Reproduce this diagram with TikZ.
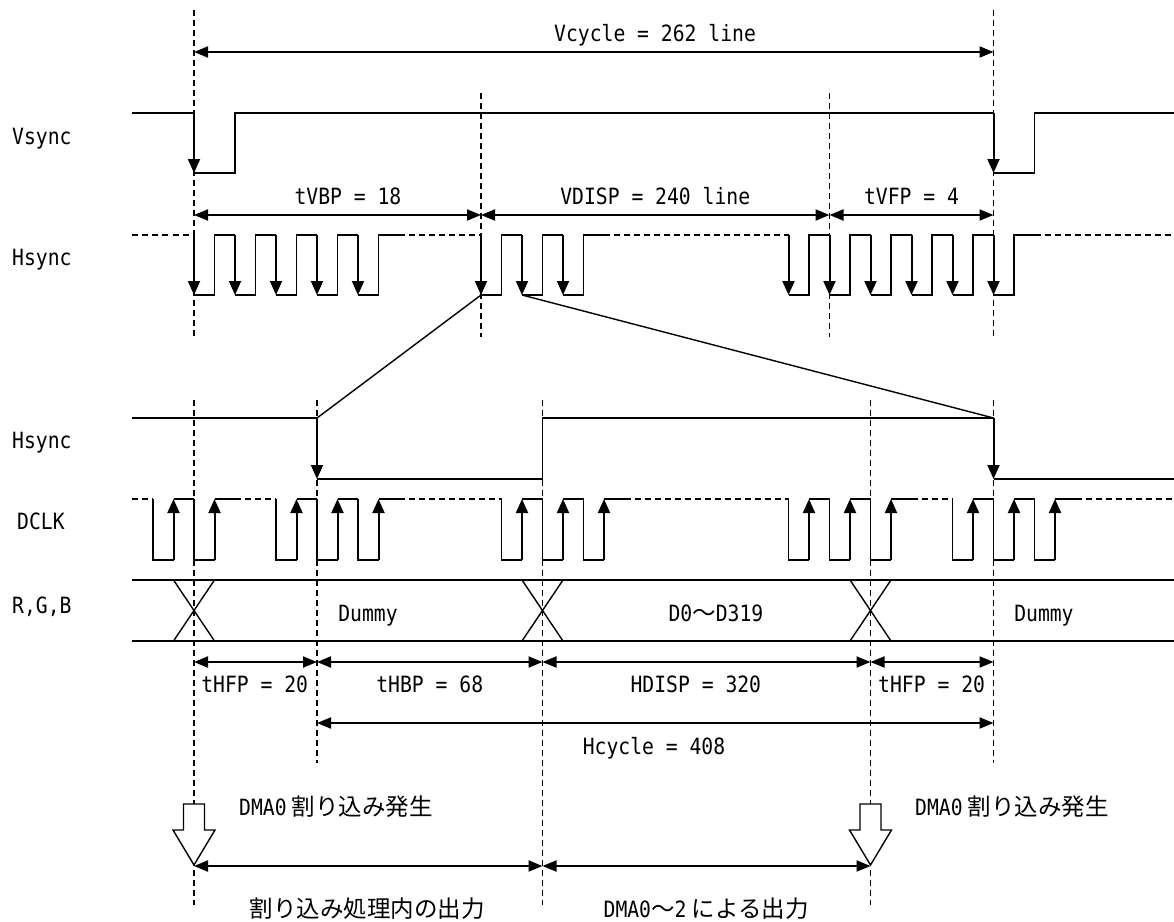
\documentclass[tikz,border=0pt]{standalone}
\usepackage{fontspec}
\setmainfont[FakeStretch=0.88]{DejaVu Sans Mono}
\newfontfamily\jpfont{Noto Sans CJK JP}
\usetikzlibrary{arrows.meta}

\newcommand{\lat}{\fontsize{22.4pt}{27pt}\selectfont}
\newcommand{\jp}{\jpfont\fontsize{23.5pt}{28pt}\selectfont}

\begin{document}
\begin{tikzpicture}[x=20.5pt,y=-1pt]
            \tikzset{
                sig/.style={
                    line width=1.4pt
                }
            }
            \tikzset{
                edge/.style={
                    line width=2pt,
                    -{Triangle[length=14pt,width=12pt]}
                }
            }
            \tikzset{
                guide/.style={
                    line width=1.3pt,
                    dash pattern=on 6pt off 4pt
                }
            }
            \tikzset{
                dim/.style={
                    line width=2pt,
                    {Triangle[length=14pt,width=11pt]}-{Triangle[length=14pt,width=11pt]}
                }
            }
            \tikzset{
                lbl/.style={
                    font=\lat,
                    inner sep=0pt,
                    anchor=base
                }
            }

            \useasboundingbox (-9.4634,0) rectangle (47.8049,921);

            % guide lines
            \draw[guide] (0,10) -- (0,337);
            \draw[guide] (14,93) -- (14,337);
            \draw[guide] (31,93) -- (31,337);
            \draw[guide] (39,10) -- (39,337);
            \draw[guide] (0,400) -- (0,905);
            \draw[guide] (6,400) -- (6,763);
            \draw[guide] (17,400) -- (17,905);
            \draw[guide] (33,400) -- (33,905);
            \draw[guide] (39,400) -- (39,763);

            % signal names
            \node[lbl,anchor=base west] (vsname) at (-8.878,144) {Vsync};
            \node[lbl,anchor=base west] (hsname) at (-8.878,265.5) {Hsync};
            \node[lbl,anchor=base west] (hlname) at (-8.878,448) {Hsync};
            \node[lbl,anchor=base west] (ckname) at (-8.634,529.6) {DCLK};
            \node[lbl,anchor=base west] (dname) at (-8.878,613) {R,G,B};

            % Vsync
            \draw[sig] (-3,113) -- (0,113);
            \draw[edge] (0,113) -- (0,173);
            \draw[sig] (0,173) -- (2,173) -- (2,113) -- (39,113);
            \draw[edge] (39,113) -- (39,173);
            \draw[sig] (39,173) -- (41,173) -- (41,113) -- (47.81,113);

            \draw[dim] (0,52) -- (39,52);
            \node[lbl] (vcyc) at (22.49,41.7) {Vcycle = 262 line};

            \draw[dim] (0,215) -- (14,215);
            \draw[dim] (14,215) -- (31,215);
            \draw[dim] (31,215) -- (39,215);
            \node[lbl] (tvbp) at (7.51,204) {tVBP = 18};
            \node[lbl] (vdisp) at (22.5,204) {VDISP = 240 line};
            \node[lbl] (tvfp) at (35,204) {tVFP = 4};

            % Hsync (lines)
            \draw[sig,guide] (-3,235) -- (0,235);
            \draw[sig,guide] (10,235) -- (14,235);
            \draw[sig,guide] (20,235) -- (29,235);
            \draw[sig,guide] (41,235) -- (47.81,235);
            \foreach \k in {0,2,4,6,8,14,16,18,29,31,33,35,37,39} {
                \draw[sig] (\k,295) -- (\k+1,295) -- (\k+1,235) -- (\k+2,235);
                \draw[edge] (\k,235) -- (\k,295);
            }

            % zoom into one line
            \draw[sig] (14,295) -- (6,418);
            \draw[sig] (16,295) -- (39,418);

            % Hsync (dots)
            \draw[sig] (-3,418) -- (6,418);
            \draw[edge] (6,418) -- (6,479);
            \draw[sig] (6,479) -- (17,479) -- (17,418) -- (39,418);
            \draw[edge] (39,418) -- (39,479);
            \draw[sig] (39,479) -- (47.81,479);

            % DCLK
            \draw[sig,guide] (-3,499) -- (-2,499);
            \draw[sig,guide] (2,499) -- (4,499);
            \draw[sig,guide] (10,499) -- (15,499);
            \draw[sig,guide] (21,499) -- (29,499);
            \draw[sig,guide] (35,499) -- (37,499);
            \draw[sig,guide] (43,499) -- (47.81,499);
            \foreach \k in {-2,0,4,6,8,15,17,19,29,31,33,37,39,41} {
                \draw[sig] (\k,499) -- (\k,560) -- (\k+1,560);
                \draw[edge] (\k+1,560) -- (\k+1,499);
                \draw[sig] (\k+1,499) -- (\k+2,499);
            }

            % R,G,B
            \draw[sig] (-3,580) -- (47.81,580);
            \draw[sig] (-3,641) -- (47.81,641);
            \foreach \k in {0,17,33} {
                \draw[sig] (\k-1,580) -- (\k+1,641);
                \draw[sig] (\k-1,641) -- (\k+1,580);
            }
            \node[lbl] (dum1) at (8.49,621.7) {Dummy};
            \node[lbl] (pix) at (25.46,621.7) {D0{\jp ～}D319};
            \node[lbl] (dum2) at (41.46,621.7) {Dummy};

            % horizontal timing
            \draw[dim] (0,662) -- (6,662);
            \draw[dim] (6,662) -- (17,662);
            \draw[dim] (17,662) -- (33,662);
            \draw[dim] (33,662) -- (39,662);
            \node[lbl] (thfpa) at (2.96,692.7) {tHFP = 20};
            \node[lbl] (thbp) at (11.5,692.7) {tHBP = 68};
            \node[lbl] (hdisp) at (24.48,692.7) {HDISP = 320};
            \node[lbl] (thfpb) at (35.98,692.7) {tHFP = 20};

            \draw[dim] (6,723) -- (39,723);
            \node[lbl] (hcyc) at (22.44,754) {Hcycle = 408};

            % DMA0 interrupts
            \foreach \k in {0,33} {
                \draw[sig,fill=white] (\k-0.512,804) -- (\k+0.512,804) -- (\k+0.512,830)
                    -- (\k+1.024,830) -- (\k,865) -- (\k-1.024,830) -- (\k-0.512,830) -- cycle;
            }
            \node[lbl,anchor=base west] (irqa) at (2.195,815) {DMA0{\jp\ 割り込み発生}};
            \node[lbl,anchor=base west] (irqb) at (35.17,815) {DMA0{\jp\ 割り込み発生}};

            \draw[dim] (0,866) -- (17,866);
            \draw[dim] (17,866) -- (33,866);
            \node[lbl] (outa) at (8.46,917) {\jp 割り込み処理内の出力};
            \node[lbl] (outb) at (24.98,917) {DMA0{\jp ～}2{\jp\ による出力}};
\end{tikzpicture}
\end{document}
